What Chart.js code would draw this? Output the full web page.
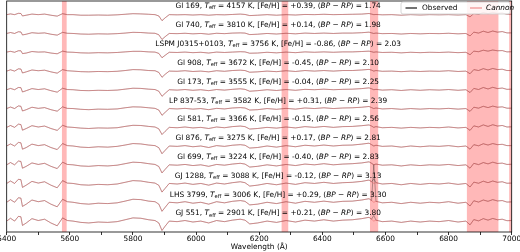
<!DOCTYPE html>
<html>
<head>
<meta charset="utf-8">
<script src="https://cdn.jsdelivr.net/npm/chart.js@4.4.0/dist/chart.umd.min.js"></script>
<style>
  html, body { margin: 0; padding: 0; background: #fff; }
  #wrap { width: 520px; height: 252px; }
</style>
</head>
<body>
<div id="wrap"><canvas id="spectra" width="520" height="252"></canvas></div>
<script>
// wavelength grid (Angstrom)
var wave = [5400,5412,5425,5437,5445,5450,5462,5480,5500,5520,
  5540,5560,5577,5592,5610,5635,5660,5690,5720,5750,
  5775,5800,5825,5850,5870,5882,5892,5902,5915,5940,
  5965,5990,6015,6040,6065,6090,6115,6140,6155,6170,
  6195,6225,6255,6285,6315,6345,6375,6405,6435,6465,
  6495,6525,6548,6556,6563,6570,6590,6620,6650,6680,
  6710,6740,6770,6800,6830,6855,6868,6880,6895,6910,
  6925,6940,6955,6970,6985,7000];

// normalised flux, one array per star (top to bottom)
var gl169 = [1.02,1.06,1.02,1.09,1.08,0.95,0.99,1.05,1.02,1.05, 0.99,0.94,1.07,1.02,1.02,0.99,0.99,1.00,0.99,1.01,
  1.04,1.07,1.06,1.04,1.02,0.95,0.70,0.85,1.02,1.01, 1.02,1.00,1.02,0.99,1.02,1.01,1.03,1.05,1.03,0.97,
  0.99,1.02,0.99,1.02,1.00,1.03,1.02,1.04,1.02,1.03, 1.04,1.05,1.08,1.05,1.02,1.03,1.01,1.02,0.99,1.02,
  1.00,1.02,1.01,1.02,1.00,1.02, 0.90,1.08,1.04,1.13,1.07,1.14,1.09,1.11,1.04,1.04];
var gl740 = [1.02,1.07,1.02,1.11,1.10,0.94,0.98,1.06,1.03,1.05, 0.98,0.93,1.08,1.03,1.02,0.99,0.98,1.00,0.99,1.01,
  1.04,1.08,1.07,1.04,1.03,0.95,0.70,0.85,1.02,1.01, 1.03,1.00,1.02,0.98,1.03,1.01,1.04,1.05,1.04,0.96,
  0.98,1.02,0.99,1.03,1.00,1.04,1.02,1.04,1.02,1.04, 1.04,1.06,1.09,1.05,1.02,1.04,1.01,1.02,0.99,1.02,
  1.00,1.02,1.01,1.03,1.00,1.02, 0.89,1.09,1.04,1.14,1.07,1.15,1.09,1.12,1.05,1.05];
var lspm0315 = [1.03,1.07,1.02,1.10,1.10,0.95,0.98,1.06,1.03,1.04, 0.98,0.94,1.08,1.03,1.02,0.99,0.98,1.00,0.99,1.01,
  1.04,1.07,1.07,1.04,1.03,0.96,0.73,0.86,1.02,1.01, 1.03,1.00,1.02,0.98,1.03,1.01,1.03,1.05,1.04,0.97,
  0.98,1.02,0.99,1.03,1.00,1.04,1.02,1.04,1.02,1.04, 1.04,1.06,1.08,1.05,1.02,1.04,1.01,1.02,0.99,1.02,
  1.00,1.02,1.01,1.03,1.00,1.02, 0.89,1.08,1.05,1.13,1.08,1.14,1.10,1.11,1.04,1.05];
var gl908 = [1.02,1.09,1.02,1.14,1.13,0.92,0.98,1.08,1.04,1.07, 0.98,0.91,1.10,1.04,1.02,0.99,0.98,1.00,0.99,1.01,
  1.05,1.10,1.09,1.05,1.04,0.95,0.69,0.85,1.02,1.01, 1.04,1.00,1.02,0.98,1.04,1.01,1.05,1.07,1.05,0.96,
  0.98,1.02,0.99,1.04,1.00,1.05,1.02,1.05,1.02,1.05, 1.05,1.08,1.11,1.07,1.02,1.05,1.01,1.02,0.99,1.02,
  1.00,1.02,1.01,1.04,1.00,1.02, 0.88,1.10,1.05,1.15,1.08,1.16,1.10,1.12,1.05,1.05];
var gl173 = [1.03,1.10,1.03,1.15,1.14,0.91,0.98,1.09,1.04,1.08, 0.98,0.90,1.11,1.04,1.03,0.99,0.98,1.00,0.99,1.01,
  1.06,1.11,1.10,1.06,1.04,0.95,0.68,0.84,1.03,1.01, 1.04,1.00,1.03,0.98,1.04,1.01,1.05,1.08,1.05,0.95,
  0.98,1.03,0.99,1.04,1.00,1.05,1.03,1.06,1.03,1.05, 1.06,1.09,1.13,1.08,1.03,1.05,1.01,1.03,0.99,1.03,
  1.00,1.03,1.01,1.04,1.00,1.03, 0.88,1.10,1.04,1.15,1.07,1.16,1.09,1.12,1.05,1.06];
var lp83753 = [1.03,1.11,1.03,1.17,1.15,0.90,0.97,1.10,1.04,1.08, 0.97,0.89,1.12,1.04,1.03,0.99,0.97,1.00,0.99,1.01,
  1.07,1.12,1.11,1.07,1.04,0.95,0.67,0.83,1.03,1.01, 1.04,1.00,1.03,0.97,1.04,1.01,1.06,1.08,1.06,0.95,
  0.97,1.03,0.99,1.04,1.00,1.06,1.03,1.07,1.03,1.06, 1.07,1.10,1.14,1.08,1.03,1.06,1.01,1.03,0.99,1.03,
  1.00,1.03,1.01,1.04,1.00,1.03, 0.88,1.10,1.05,1.15,1.08,1.16,1.10,1.12,1.05,1.05];
var gl581 = [1.03,1.13,1.03,1.20,1.18,0.88,0.97,1.12,1.05,1.10, 0.97,0.87,1.14,1.05,1.03,0.99,0.97,1.00,0.99,1.01,
  1.08,1.14,1.13,1.08,1.05,0.95,0.65,0.82,1.03,1.01, 1.05,1.00,1.03,0.97,1.05,1.01,1.07,1.10,1.07,0.94,
  0.97,1.03,0.99,1.05,1.00,1.07,1.03,1.08,1.03,1.07, 1.08,1.12,1.16,1.10,1.03,1.07,1.01,1.03,0.99,1.03,
  1.00,1.03,1.01,1.05,1.00,1.03, 0.87,1.11,1.05,1.16,1.08,1.17,1.10,1.13,1.05,1.06];
var gl876 = [1.04,1.15,1.04,1.23,1.21,0.87,0.96,1.14,1.06,1.11, 0.96,0.85,1.17,1.06,1.04,0.98,0.96,1.00,0.98,1.02,
  1.09,1.17,1.15,1.09,1.06,0.95,0.63,0.81,1.04,1.02, 1.06,1.00,1.04,0.96,1.06,1.02,1.08,1.11,1.08,0.93,
  0.96,1.04,0.98,1.06,1.00,1.08,1.04,1.09,1.04,1.08, 1.09,1.14,1.19,1.11,1.04,1.08,1.02,1.04,0.98,1.04,
  1.00,1.04,1.02,1.06,1.00,1.04, 0.87,1.11,1.05,1.16,1.09,1.17,1.11,1.13,1.06,1.06];
var gl699 = [1.04,1.16,1.04,1.24,1.22,0.86,0.96,1.14,1.06,1.12, 0.96,0.84,1.18,1.06,1.04,0.98,0.96,1.00,0.98,1.02,
  1.10,1.18,1.16,1.10,1.06,0.95,0.61,0.80,1.04,1.02, 1.06,1.00,1.04,0.96,1.06,1.02,1.08,1.12,1.08,0.92,
  0.96,1.04,0.98,1.06,1.00,1.08,1.04,1.10,1.04,1.08, 1.10,1.14,1.20,1.12,1.04,1.08,1.02,1.04,0.98,1.04,
  1.00,1.04,1.02,1.06,1.00,1.04, 0.86,1.12,1.05,1.16,1.09,1.18,1.11,1.13,1.06,1.07];
var gj1288 = [1.05,1.18,1.05,1.27,1.25,0.84,0.96,1.16,1.07,1.14, 0.96,0.82,1.20,1.07,1.05,0.98,0.96,1.00,0.98,1.02,
  1.11,1.20,1.18,1.11,1.07,0.95,0.59,0.79,1.05,1.02, 1.07,1.00,1.05,0.96,1.07,1.02,1.09,1.14,1.09,0.91,
  0.96,1.05,0.98,1.07,1.00,1.09,1.05,1.11,1.05,1.09, 1.11,1.16,1.23,1.14,1.05,1.09,1.02,1.05,0.98,1.05,
  1.00,1.05,1.02,1.07,1.00,1.05, 0.86,1.12,1.06,1.17,1.09,1.18,1.11,1.14,1.06,1.07];
var lhs3799 = [1.05,1.19,1.05,1.29,1.27,0.83,0.95,1.17,1.08,1.14, 0.95,0.81,1.21,1.08,1.05,0.98,0.95,1.00,0.98,1.02,
  1.11,1.21,1.19,1.11,1.08,0.95,0.57,0.78,1.05,1.02, 1.08,1.00,1.05,0.95,1.08,1.02,1.10,1.14,1.10,0.91,
  0.95,1.05,0.98,1.08,1.00,1.10,1.05,1.11,1.05,1.10, 1.11,1.17,1.24,1.14,1.05,1.10,1.02,1.05,0.98,1.05,
  1.00,1.05,1.02,1.08,1.00,1.05, 0.85,1.13,1.06,1.17,1.10,1.19,1.12,1.14,1.06,1.07];
var gj551 = [1.05,1.20,1.05,1.30,1.28,0.82,0.95,1.18,1.08,1.15, 0.95,0.80,1.22,1.08,1.05,0.98,0.95,1.00,0.98,1.02,
  1.12,1.22,1.20,1.12,1.08,0.95,0.55,0.78,1.05,1.02, 1.08,1.00,1.05,0.95,1.08,1.02,1.10,1.15,1.10,0.90,
  0.95,1.05,0.98,1.08,1.00,1.10,1.05,1.12,1.05,1.10, 1.12,1.18,1.25,1.15,1.05,1.10,1.02,1.05,0.98,1.05,
  1.00,1.05,1.02,1.08,1.00,1.05, 0.85,1.13,1.06,1.18,1.10,1.19,1.12,1.15,1.07,1.08];

// H-alpha emission seen only in the observed spectra (extra flux at 6563 A)
var halphaEmission = [0,0,0,0,0,0,0,0,0,0.25,2.0,0.3];

var names = ['Gl 169','Gl 740','LSPM J0315+0103','Gl 908','Gl 173','LP 837-53','Gl 581','Gl 876','Gl 699','GJ 1288','LHS 3799','GJ 551'];
var teff = [4157,3810,3756,3672,3555,3582,3366,3275,3224,3088,3006,2901];
var feh = ['+0.39','+0.14','-0.86','-0.45','-0.04','+0.31','-0.15','+0.17','-0.40','-0.12','+0.29','+0.21'];
var bprp = ['1.74','1.98','2.03','2.10','2.25','2.39','2.56','2.81','2.83','3.13','3.30','3.80'];
var offsets = [11,10,9,8,7,6,5,4,3,2,1,0];

// masked wavelength ranges
var maskStart = [5575,6271,6551,6858,6992];
var maskEnd = [5590,6292,6577,6958,7000];

var xTicks = [5400,5600,5800,6000,6200,6400,6600,6800,7000];

var spectra = [gl169,gl740,lspm0315,gl908,gl173,lp83753,gl581,gl876,gl699,gj1288,lhs3799,gj551];
var haIndex = wave.indexOf(6563);

var datasets = [];
spectra.forEach(function (flux, i) {
  var model = [];
  var obs = [];
  for (var k = 0; k < wave.length; k++) {
    model.push({x: wave[k], y: flux[k] + offsets[i]});
    var extra = (k === haIndex) ? halphaEmission[i] : 0;
    obs.push({x: wave[k], y: flux[k] + extra + offsets[i]});
  }
  datasets.push({
    label: i === 0 ? 'Observed' : '',
    data: obs,
    borderColor: 'rgba(0,0,0,0.6)',
    borderWidth: 0.5,
    pointRadius: 0,
    order: 1
  });
  datasets.push({
    label: i === 0 ? 'Cannon' : '',
    data: model,
    borderColor: 'rgba(232,85,85,0.55)',
    borderWidth: 0.8,
    pointRadius: 0,
    order: 0
  });
});

var FONT = '"DejaVu Sans", "Liberation Sans", sans-serif';

var decorPlugin = {
  id: 'decor',
  beforeDatasetsDraw: function (chart) {
    var ctx = chart.ctx, a = chart.chartArea, xs = chart.scales.x;
    ctx.save();
    ctx.fillStyle = 'rgba(255,0,0,0.28)';
    for (var b = 0; b < maskStart.length; b++) {
      var x0 = xs.getPixelForValue(maskStart[b]);
      var x1 = xs.getPixelForValue(maskEnd[b]);
      ctx.fillRect(x0, a.top, x1 - x0, a.bottom - a.top);
    }
    ctx.restore();
  },
  afterDatasetsDraw: function (chart) {
    var ctx = chart.ctx, a = chart.chartArea, xs = chart.scales.x, ys = chart.scales.y;
    ctx.save();
    ctx.textBaseline = 'middle';
    ctx.fillStyle = '#000';
    var fs = 7.4;
    names.forEach(function (nm, i) {
      var parts = [
        {t: nm + ', ', f: fs + 'px ' + FONT, dy: 0},
        {t: 'T', f: 'italic ' + fs + 'px ' + FONT, dy: 0},
        {t: 'eff', f: (fs * 0.7) + 'px ' + FONT, dy: 1.6},
        {t: ' = ' + teff[i] + ' K, [Fe/H] = ' + feh[i] + ', (', f: fs + 'px ' + FONT, dy: 0},
        {t: 'BP', f: 'italic ' + fs + 'px ' + FONT, dy: 0},
        {t: ' \u2212 ', f: fs + 'px ' + FONT, dy: 0},
        {t: 'RP', f: 'italic ' + fs + 'px ' + FONT, dy: 0},
        {t: ') = ' + bprp[i], f: fs + 'px ' + FONT, dy: 0}
      ];
      var total = 0;
      parts.forEach(function (p) { ctx.font = p.f; p.w = ctx.measureText(p.t).width; total += p.w; });
      var x = xs.getPixelForValue(6260) - total / 2;
      var y = ys.getPixelForValue(offsets[i] + 1.45);
      parts.forEach(function (p) { ctx.font = p.f; ctx.fillText(p.t, x, y + p.dy); x += p.w; });
    });
    ctx.restore();
  },
  afterDraw: function (chart) {
    var ctx = chart.ctx, a = chart.chartArea;
    ctx.save();
    // frame
    ctx.strokeStyle = '#000';
    ctx.lineWidth = 0.8;
    ctx.strokeRect(a.left, a.top, a.right - a.left, a.bottom - a.top);
    // legend
    var lx = 401, ly = 2, lw = 109, lh = 12;
    ctx.fillStyle = 'rgba(255,255,255,0.85)';
    ctx.strokeStyle = '#cccccc';
    ctx.lineWidth = 0.8;
    ctx.beginPath();
    ctx.roundRect(lx, ly, lw, lh, 2);
    ctx.fill();
    ctx.stroke();
    var my = ly + lh / 2;
    ctx.lineWidth = 1.1;
    ctx.strokeStyle = '#000';
    ctx.beginPath(); ctx.moveTo(405.5, my); ctx.lineTo(417, my); ctx.stroke();
    ctx.strokeStyle = 'rgba(232,85,85,0.7)';
    ctx.beginPath(); ctx.moveTo(470, my); ctx.lineTo(482, my); ctx.stroke();
    ctx.fillStyle = '#000';
    ctx.textBaseline = 'middle';
    ctx.font = '7.4px ' + FONT;
    ctx.fillText('Observed', 422, my);
    ctx.font = 'italic 7.4px ' + FONT;
    ctx.fillText('Cannon', 486, my);
    ctx.restore();
  }
};

var chart = new Chart(document.getElementById('spectra'), {
  type: 'line',
  data: { datasets: datasets },
  options: {
    responsive: false,
    animation: false,
    devicePixelRatio: 1,
    parsing: false,
    layout: { padding: { left: 6.7, right: 8.3, top: 1, bottom: 0 } },
    plugins: {
      legend: { display: false },
      tooltip: { enabled: false }
    },
    elements: { line: { tension: 0 } },
    scales: {
      x: {
        type: 'linear',
        min: 5400,
        max: 7000,
        afterFit: function (scale) {
          scale.height = 20;
          scale.paddingLeft = 0;
          scale.paddingRight = 0;
        },
        afterBuildTicks: function (scale) {
          var t = [];
          for (var v = 5400; v <= 7000; v += 100) t.push({value: v});
          scale.ticks = t;
        },
        ticks: {
          autoSkip: false,
          maxRotation: 0,
          padding: 0,
          color: '#000',
          font: { family: FONT, size: 7.4 },
          callback: function (v) { return xTicks.indexOf(v) >= 0 ? String(v) : ''; }
        },
        grid: { drawOnChartArea: false, tickLength: 3, tickColor: '#000', tickWidth: 0.8 },
        border: { display: false },
        title: {
          display: true,
          text: 'Wavelength (\u00c5)',
          color: '#000',
          font: { family: FONT, size: 7.4 },
          padding: { top: 0, bottom: 0 }
        }
      },
      y: {
        display: false,
        min: 0.47,
        max: 12.745
      }
    }
  },
  plugins: [decorPlugin]
});
</script>
</body>
</html>
